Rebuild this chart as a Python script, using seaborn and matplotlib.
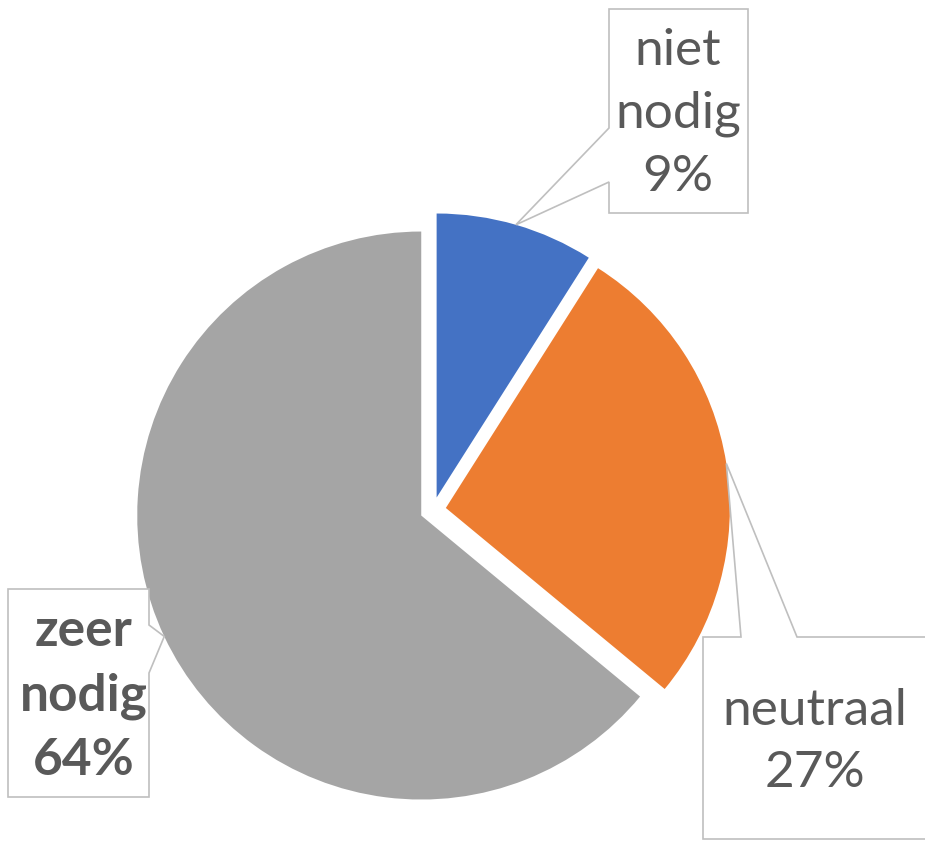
import numpy as np
import seaborn as sns
import matplotlib.pyplot as plt
from matplotlib.patches import Polygon

labels = ["niet\nnodig", "neutraal", "zeer\nnodig"]
shares = [9, 27, 64]
colors = ["#4472C4", "#ED7D31", "#A5A5A5"]
bold = [False, False, True]

# pixel geometry of the reference (center, radius of the pie)
W, H = 925, 841
CX, CY, R = 433, 510, 284


def px(x, y):
    return ((x - CX) / R, (CY - y) / R)


sns.set_theme(style="white")
plt.rcParams["font.family"] = ["Lato", "DejaVu Sans"]

fig = plt.figure(figsize=(W / 100, H / 100), dpi=100)
ax = fig.add_axes([0, 0, 1, 1])

wedges, _ = ax.pie(shares, colors=colors, startangle=90, counterclock=False,
                   explode=[13 / R] * 3, radius=1,
                   wedgeprops=dict(linewidth=0))

ax.set_xlim(-CX / R, (W - CX) / R)
ax.set_ylim(-(H - CY) / R, CY / R)
ax.set_aspect("equal")
ax.axis("off")


def tip_of(w):
    th = np.deg2rad((w.theta1 + w.theta2) / 2)
    return (w.center[0] + w.r * np.cos(th), w.center[1] + w.r * np.sin(th))


# callout boxes: (box corners, notch, text position)
boxes = [
    dict(rect=(609, 9, 748, 213), side="left", notch=(128, 182), text=(678, 114)),
    dict(rect=(703, 637, 935, 839), side="top", notch=(741, 797), text=(815, 742)),
    dict(rect=(8, 589, 149, 797), side="right", notch=(625, 673), text=(84, 696)),
]

for w, lab, pct, b, isbold in zip(wedges, labels, shares, boxes, bold):
    x0, y0, x1, y1 = b["rect"]
    n0, n1 = b["notch"]
    tip = tip_of(w)
    if b["side"] == "left":
        pts = [px(x0, y0), px(x1, y0), px(x1, y1), px(x0, y1), px(x0, n1), tip, px(x0, n0)]
    elif b["side"] == "top":
        pts = [px(x0, y0), px(n0, y0), tip, px(n1, y0), px(x1, y0), px(x1, y1), px(x0, y1)]
    else:
        pts = [px(x0, y0), px(x1, y0), px(x1, n0), tip, px(x1, n1), px(x1, y1), px(x0, y1)]
    ax.add_patch(Polygon(pts, closed=True, facecolor="white", edgecolor="#BFBFBF",
                         linewidth=1.2, zorder=3))
    tx, ty = px(*b["text"])
    ax.text(tx, ty, f"{lab}\n{pct}%", ha="center", va="center", fontsize=37,
            color="#595959", fontweight="bold" if isbold else "normal",
            linespacing=1.45, zorder=4)

fig.savefig("out.png", dpi=100)
